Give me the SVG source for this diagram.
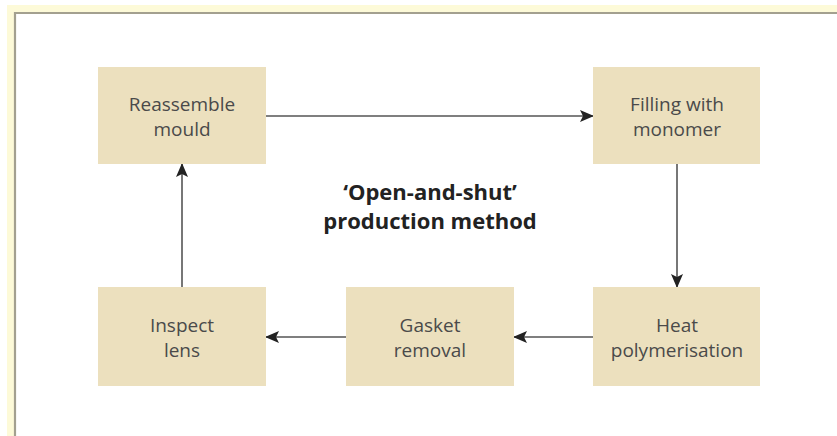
<svg xmlns="http://www.w3.org/2000/svg" width="837" height="436" viewBox="0 0 837 436">
<style>
.box{fill:#ece0be;}
.lbl{font-family:"Open Sans","Noto Sans","Liberation Sans",sans-serif;font-size:19px;fill:#4a4a4a;text-anchor:middle;}
.title{font-family:"Open Sans","Noto Sans","Liberation Sans",sans-serif;font-size:22px;font-weight:bold;fill:#222;text-anchor:middle;}
.conn{stroke:#555;stroke-width:1.6;fill:none;marker-end:url(#ah);}
</style>
<defs>
<marker id="ah" markerWidth="14" markerHeight="12" refX="13" refY="6" orient="auto" markerUnits="userSpaceOnUse">
<path d="M0,0 L14,6 L0,12 L3,6 Z" fill="#222"/>
</marker>
</defs>
<rect x="0" y="0" width="837" height="436" fill="#ffffff"/>
<rect x="7" y="5" width="830" height="8" fill="#fdfad8"/>
<rect x="7" y="5" width="8" height="431" fill="#fdfad8"/>
<path d="M15,436 L15,13 L837,13" stroke="#a3a08f" stroke-width="2.2" fill="none"/>
<g id="title">
<text class="title" x="430" y="200">‘Open-and-shut’</text>
<text class="title" x="430" y="229">production method</text>
</g>
<g id="connectors">
<line class="conn" x1="266" y1="116" x2="593" y2="116"/>
<line class="conn" x1="677" y1="164" x2="677" y2="287"/>
<line class="conn" x1="594" y1="337" x2="514" y2="337"/>
<line class="conn" x1="346" y1="337" x2="266" y2="337"/>
<line class="conn" x1="182" y1="287" x2="182" y2="164"/>
</g>
<g id="reassemble">
<rect class="box" x="98" y="67" width="168" height="97"/>
<text class="lbl" x="182" y="111">Reassemble</text>
<text class="lbl" x="182" y="136">mould</text>
</g>
<g id="filling">
<rect class="box" x="593" y="67" width="167" height="97"/>
<text class="lbl" x="677" y="111">Filling with</text>
<text class="lbl" x="677" y="136">monomer</text>
</g>
<g id="heat">
<rect class="box" x="593" y="287" width="167" height="99"/>
<text class="lbl" x="677" y="332">Heat</text>
<text class="lbl" x="677" y="357">polymerisation</text>
</g>
<g id="gasket">
<rect class="box" x="346" y="287" width="168" height="99"/>
<text class="lbl" x="430" y="332">Gasket</text>
<text class="lbl" x="430" y="357">removal</text>
</g>
<g id="inspect">
<rect class="box" x="98" y="287" width="168" height="99"/>
<text class="lbl" x="182" y="332">Inspect</text>
<text class="lbl" x="182" y="357">lens</text>
</g>
</svg>
